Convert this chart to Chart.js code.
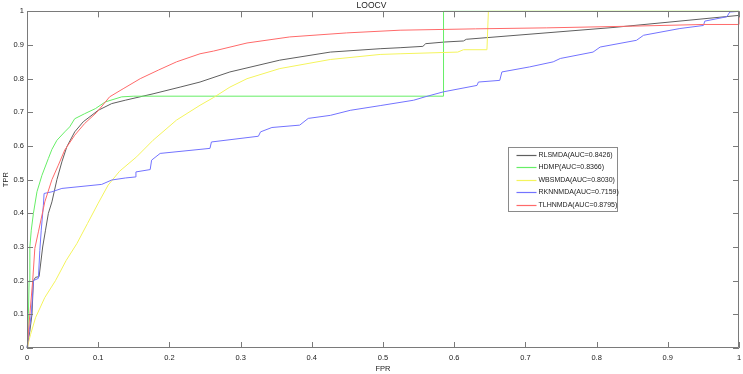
<!DOCTYPE html>
<html>
<head>
<meta charset="utf-8">
<script src="https://cdn.jsdelivr.net/npm/chart.js@4.4.1/dist/chart.umd.min.js"></script>
<style>
  html, body { margin: 0; padding: 0; background: #fff; }
</style>
</head>
<body>
<canvas id="roc" width="743" height="374"></canvas>
<script>
// ROC curves, LOOCV
var seriesNames = ["RLSMDA(AUC=0.8426)", "HDMP(AUC=0.8366)", "WBSMDA(AUC=0.8030)", "RKNNMDA(AUC=0.7159)", "TLHNMDA(AUC=0.8795)"];
var seriesColors = ["#5f5f5f", "#66ee66", "#f4f45c", "#7373ff", "#ff6a6a"];

var xTicks = [0, 0.1, 0.2, 0.3, 0.4, 0.5, 0.6, 0.7, 0.8, 0.9, 1];
var xTickLabels = ["0", "0.1", "0.2", "0.3", "0.4", "0.5", "0.6", "0.7", "0.8", "0.9", "1"];
var yTicks = [0, 0.1, 0.2, 0.3, 0.4, 0.5, 0.6, 0.7, 0.8, 0.9, 1];
var yTickLabels = ["0", "0.1", "0.2", "0.3", "0.4", "0.5", "0.6", "0.7", "0.8", "0.9", "1"];

var rlsFpr = [0, 0.004, 0.007, 0.009, 0.012, 0.017, 0.022, 0.026, 0.03, 0.035, 0.042, 0.049, 0.056, 0.067, 0.079, 0.1, 0.119, 0.138, 0.177, 0.215, 0.243, 0.285, 0.355, 0.426, 0.496, 0.524, 0.556, 0.56, 0.587, 0.613, 0.617, 0.823, 1, 1];
var rlsTpr = [0, 0.05, 0.1, 0.2, 0.21, 0.212, 0.3, 0.35, 0.4, 0.434, 0.5, 0.553, 0.598, 0.642, 0.672, 0.706, 0.726, 0.736, 0.755, 0.775, 0.79, 0.82, 0.855, 0.879, 0.889, 0.892, 0.896, 0.904, 0.909, 0.912, 0.917, 0.952, 0.988, 1];

var hdmpFpr = [0, 0.001, 0.002, 0.003, 0.004, 0.006, 0.009, 0.014, 0.021, 0.03, 0.035, 0.042, 0.053, 0.06, 0.067, 0.081, 0.096, 0.11, 0.133, 0.15, 0.585, 0.585, 1];
var hdmpTpr = [0, 0.024, 0.103, 0.2, 0.3, 0.35, 0.4, 0.464, 0.513, 0.563, 0.59, 0.617, 0.642, 0.657, 0.681, 0.696, 0.711, 0.731, 0.746, 0.748, 0.748, 1, 1];

var wbsFpr = [0, 0.005, 0.012, 0.025, 0.04, 0.055, 0.07, 0.085, 0.1, 0.114, 0.13, 0.154, 0.177, 0.21, 0.243, 0.262, 0.285, 0.309, 0.355, 0.426, 0.496, 0.524, 0.605, 0.613, 0.646, 0.648, 1];
var wbsTpr = [0, 0.04, 0.09, 0.15, 0.2, 0.26, 0.31, 0.37, 0.43, 0.484, 0.525, 0.568, 0.617, 0.677, 0.721, 0.744, 0.775, 0.8, 0.83, 0.857, 0.872, 0.874, 0.879, 0.886, 0.886, 1, 1];

var rknnFpr = [0, 0.006, 0.009, 0.016, 0.018, 0.02, 0.023, 0.024, 0.035, 0.049, 0.105, 0.119, 0.138, 0.152, 0.153, 0.173, 0.175, 0.187, 0.243, 0.257, 0.259, 0.325, 0.328, 0.344, 0.383, 0.395, 0.426, 0.454, 0.496, 0.543, 0.559, 0.585, 0.632, 0.634, 0.664, 0.667, 0.706, 0.739, 0.749, 0.795, 0.805, 0.856, 0.866, 0.917, 0.95, 0.952, 0.983, 0.987, 1];
var rknnTpr = [0, 0.1, 0.2, 0.207, 0.29, 0.35, 0.424, 0.459, 0.464, 0.474, 0.486, 0.499, 0.505, 0.508, 0.523, 0.53, 0.558, 0.578, 0.59, 0.593, 0.612, 0.629, 0.642, 0.655, 0.662, 0.682, 0.691, 0.706, 0.72, 0.736, 0.746, 0.761, 0.78, 0.79, 0.795, 0.82, 0.835, 0.85, 0.86, 0.879, 0.894, 0.914, 0.929, 0.949, 0.958, 0.971, 0.984, 0.998, 1];

var tlhnFpr = [0, 0.001, 0.004, 0.008, 0.011, 0.016, 0.025, 0.035, 0.044, 0.053, 0.067, 0.081, 0.098, 0.116, 0.135, 0.159, 0.185, 0.21, 0.243, 0.262, 0.309, 0.369, 0.449, 0.524, 0.63, 0.73, 0.85, 0.95, 1, 1];
var tlhnTpr = [0, 0.02, 0.1, 0.2, 0.296, 0.345, 0.434, 0.5, 0.543, 0.588, 0.632, 0.667, 0.7, 0.746, 0.77, 0.8, 0.826, 0.85, 0.874, 0.882, 0.906, 0.924, 0.936, 0.944, 0.948, 0.951, 0.956, 0.961, 0.961, 1];

function pairs(xs, ys) {
  return xs.map(function (x, i) { return { x: x, y: ys[i] }; });
}

var curves = [
  pairs(rlsFpr, rlsTpr),
  pairs(hdmpFpr, hdmpTpr),
  pairs(wbsFpr, wbsTpr),
  pairs(rknnFpr, rknnTpr),
  pairs(tlhnFpr, tlhnTpr)
];

var fontFamily = "'Liberation Sans', Arial, sans-serif";
var tickFont = { family: fontFamily, size: 7.5 };
var textColor = "#222";
var boxColor = "#7a7a7a";

// MATLAB-like box with inward ticks on all four sides
var frameTicks = {
  id: "frameTicks",
  afterDatasetsDraw: function (chart) {
    var ctx = chart.ctx, a = chart.chartArea;
    var xs = chart.scales.x, ys = chart.scales.y;
    var len = 6;
    ctx.save();
    ctx.strokeStyle = boxColor;
    ctx.lineWidth = 1;
    ctx.beginPath();
    ctx.rect(Math.round(a.left) + 0.5, Math.round(a.top) + 0.5, Math.round(a.right - a.left) - 1, Math.round(a.bottom - a.top) - 1);
    xTicks.forEach(function (v) {
      var px = Math.round(xs.getPixelForValue(v)) + 0.5;
      ctx.moveTo(px, a.bottom); ctx.lineTo(px, a.bottom - len);
      ctx.moveTo(px, a.top); ctx.lineTo(px, a.top + len);
    });
    yTicks.forEach(function (v) {
      var py = Math.round(ys.getPixelForValue(v)) + 0.5;
      ctx.moveTo(a.left, py); ctx.lineTo(a.left + len, py);
      ctx.moveTo(a.right, py); ctx.lineTo(a.right - len, py);
    });
    ctx.stroke();
    ctx.restore();
  }
};

// legend box inside the axes, to the right of centre
var boxLegend = {
  id: "boxLegend",
  afterDraw: function (chart) {
    var ctx = chart.ctx, a = chart.chartArea;
    var left = Math.round(a.left + 0.6755 * (a.right - a.left)) + 0.5;
    var top = Math.round(a.top + 0.404 * (a.bottom - a.top)) + 0.5;
    var w = 109, h = 64, row = 12.5;
    ctx.save();
    ctx.fillStyle = "#fff";
    ctx.fillRect(left, top, w, h);
    ctx.strokeStyle = "#8a8a8a";
    ctx.lineWidth = 1;
    ctx.strokeRect(left, top, w, h);
    ctx.font = "7px " + fontFamily;
    ctx.textBaseline = "middle";
    ctx.textAlign = "left";
    for (var i = 0; i < seriesNames.length; i++) {
      var y = Math.round(top + 7 + i * row) + 0.5;
      ctx.beginPath();
      ctx.strokeStyle = seriesColors[i];
      ctx.lineWidth = 1.2;
      ctx.moveTo(left + 8, y);
      ctx.lineTo(left + 28, y);
      ctx.stroke();
      ctx.fillStyle = textColor;
      ctx.fillText(seriesNames[i], left + 30, y);
    }
    ctx.restore();
  }
};

new Chart(document.getElementById("roc"), {
  type: "line",
  data: {
    datasets: curves.map(function (pts, i) {
      return {
        label: seriesNames[i],
        data: pts,
        borderColor: seriesColors[i],
        backgroundColor: seriesColors[i],
        borderWidth: 1,
        pointRadius: 0,
        tension: 0,
        fill: false,
        clip: 2,
        order: 5 - i
      };
    })
  },
  options: {
    responsive: false,
    devicePixelRatio: 1,
    animation: false,
    layout: { padding: { left: 0, right: 0, top: 0, bottom: 0 } },
    plugins: {
      legend: { display: false },
      tooltip: { enabled: false },
      title: {
        display: true,
        text: "LOOCV",
        color: textColor,
        font: { family: fontFamily, size: 8.5, weight: "normal", lineHeight: 1.1 },
        padding: { top: 1, bottom: 1 }
      }
    },
    scales: {
      x: {
        type: "linear",
        min: 0,
        max: 1,
        afterFit: function (s) { s.height = 26; s.paddingRight = 4; },
        afterBuildTicks: function (s) { s.ticks = xTicks.map(function (v) { return { value: v }; }); },
        ticks: {
          autoSkip: false,
          maxRotation: 0,
          padding: 5,
          color: textColor,
          font: tickFont,
          callback: function (v, i) { return xTickLabels[i]; }
        },
        grid: { drawOnChartArea: false, drawTicks: false },
        border: { display: false },
        title: { display: true, text: "FPR", color: textColor, font: tickFont, padding: { top: 0, bottom: 1 } }
      },
      y: {
        type: "linear",
        min: 0,
        max: 1,
        afterFit: function (s) { s.width = 27; },
        afterBuildTicks: function (s) { s.ticks = yTicks.map(function (v) { return { value: v }; }); },
        ticks: {
          autoSkip: false,
          padding: 3,
          color: textColor,
          font: tickFont,
          callback: function (v, i) { return yTickLabels[i]; }
        },
        grid: { drawOnChartArea: false, drawTicks: false },
        border: { display: false },
        title: { display: true, text: "TPR", color: textColor, font: tickFont, padding: { top: 1, bottom: 0 } }
      }
    }
  },
  plugins: [frameTicks, boxLegend]
});
</script>
</body>
</html>
